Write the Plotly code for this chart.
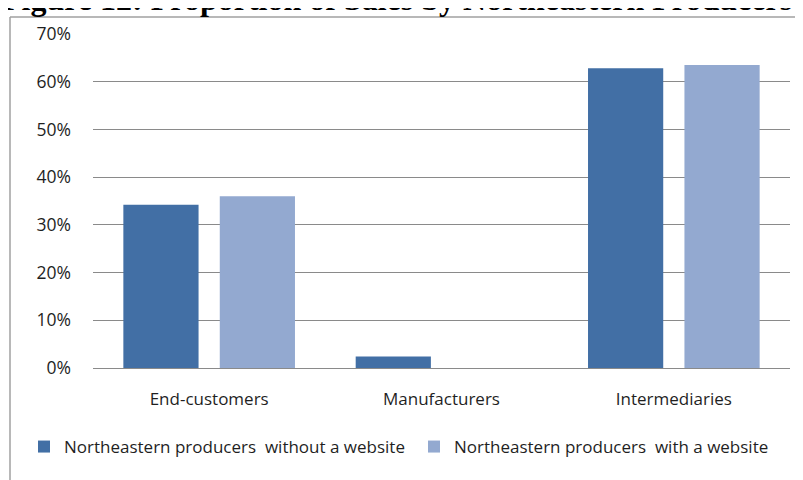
import plotly.graph_objects as go

categories = ["End-customers", "Manufacturers", "Intermediaries"]
without_site = [0.342, 0.024, 0.628]
with_site = [0.360, 0.0, 0.635]
series_names = ["Northeastern producers  without a website", "Northeastern producers  with a website"]
tick_vals = [0, 0.1, 0.2, 0.3, 0.4, 0.5, 0.6, 0.7]
tick_text = ["0%", "10%", "20%", "30%", "40%", "50%", "60%", "70%"]
title_text = "Figure 12: Proportion of Sales by Northeastern Producers"

# page has an 8px body margin; figure coords = page coords - 8
W, H = 795, 472
L, R, T, B = 85, 13, 26, 112
pw, ph = W - L - R, H - T - B

def px_x(x):
    return (x - L) / pw

def px_y(y):
    return 1 - (y - T) / ph

font = "Open Sans, Noto Sans, sans-serif"
txt = "#1f1f1f"

fig = go.Figure()
fig.add_trace(go.Bar(x=categories, y=without_site, name=series_names[0],
                     marker=dict(color="#426fa5", line=dict(width=0)),
                     legend="legend"))
fig.add_trace(go.Bar(x=categories, y=with_site, name=series_names[1],
                     marker=dict(color="#93a9d0", line=dict(width=0)),
                     legend="legend2"))

border = dict(color="#a0a0a0", width=1.5)
leg_common = dict(xanchor="left", y=px_y(439), yanchor="middle",
                  font=dict(size=17, color=txt), bgcolor="rgba(0,0,0,0)",
                  itemsizing="constant")
fig.update_layout(
    width=W, height=H,
    margin=dict(l=L, r=R, t=T, b=B),
    paper_bgcolor="white", plot_bgcolor="white",
    barmode="group", bargap=0.17, bargroupgap=0.22,
    font=dict(family=font, size=16, color=txt),
    showlegend=True,
    legend=dict(x=px_x(16), **leg_common),
    legend2=dict(x=px_x(406), **leg_common),
    xaxis=dict(showgrid=False, showline=False, ticks="", ticklabelstandoff=19,
               tickfont=dict(size=17)),
    yaxis=dict(range=[0, 0.70], tickvals=tick_vals, ticktext=tick_text,
               showgrid=True, gridcolor="#8a8a8a", gridwidth=1,
               zeroline=True, zerolinecolor="#8a8a8a", zerolinewidth=1,
               showline=False, ticks="", ticklabelstandoff=21,
               tickfont=dict(size=17.5)),
    shapes=[
        dict(type="line", xref="paper", yref="paper", x0=px_x(2), x1=px_x(2),
             y0=px_y(500), y1=px_y(9), line=border, layer="below"),
        dict(type="line", xref="paper", yref="paper", x0=px_x(2), x1=px_x(794),
             y0=px_y(9), y1=px_y(9), line=border, layer="below"),
        dict(type="line", xref="paper", yref="paper", x0=px_x(794), x1=px_x(794),
             y0=px_y(500), y1=px_y(9), line=border, layer="below"),
    ],
    annotations=[dict(text="<b>" + title_text + "</b>", xref="paper", yref="paper",
                      x=px_x(389), xanchor="center", y=px_y(-9), yanchor="middle",
                      showarrow=False,
                      font=dict(family="Liberation Serif, Times New Roman, serif",
                                size=32, color="black"))],
)

fig.write_html("out.html")
